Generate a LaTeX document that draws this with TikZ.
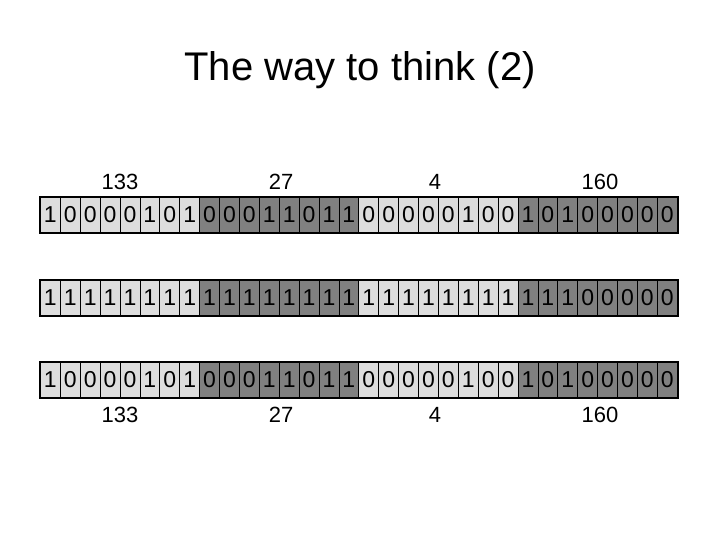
\documentclass[tikz,border=0pt]{standalone}
\usepackage{fontspec}
\setmainfont{Liberation Sans}
\definecolor{lightc}{HTML}{DDDDDD}
\definecolor{darkc}{HTML}{808080}
\newcommand{\bitrow}[3]{%
  \foreach \b [count=\i from 0] in {#3} {
    \pgfmathtruncatemacro{\byte}{mod(floor(\i/8),2)}
    \ifnum\byte=0 \def\fc{lightc}\else\def\fc{darkc}\fi
    \node[cell,fill=\fc] (#1\i) at ({40+19.9*\i},#2) {\b};
  }
  \draw[line width=2pt] (#10.north west) rectangle (#131.south east);
}
\begin{document}
\begin{tikzpicture}[x=1pt,y=-1pt,
  cell/.style={draw=black,line width=0.8pt,minimum width=19.9pt,minimum height=35pt,inner sep=0pt,anchor=north west,font=\fontsize{23}{23}\selectfont},
  lbl/.style={font=\fontsize{22}{22}\selectfont}]
\useasboundingbox (0,0) rectangle (720,540);
\node (title) at (360,70) {\fontsize{40}{40}\selectfont The way to think (2)};
\bitrow{a}{197}{1,0,0,0,0,1,0,1,0,0,0,1,1,0,1,1,0,0,0,0,0,1,0,0,1,0,1,0,0,0,0,0}
\bitrow{b}{280}{1,1,1,1,1,1,1,1,1,1,1,1,1,1,1,1,1,1,1,1,1,1,1,1,1,1,1,0,0,0,0,0}
\bitrow{c}{362}{1,0,0,0,0,1,0,1,0,0,0,1,1,0,1,1,0,0,0,0,0,1,0,0,1,0,1,0,0,0,0,0}
\node[lbl] (t1) at (120,182) {133};
\node[lbl] (t2) at (281,182) {27};
\node[lbl] (t3) at (435,182) {4};
\node[lbl] (t4) at (600,182) {160};
\node[lbl] (b1) at (120,415) {133};
\node[lbl] (b2) at (281,415) {27};
\node[lbl] (b3) at (435,415) {4};
\node[lbl] (b4) at (600,415) {160};
\end{tikzpicture}
\end{document}
